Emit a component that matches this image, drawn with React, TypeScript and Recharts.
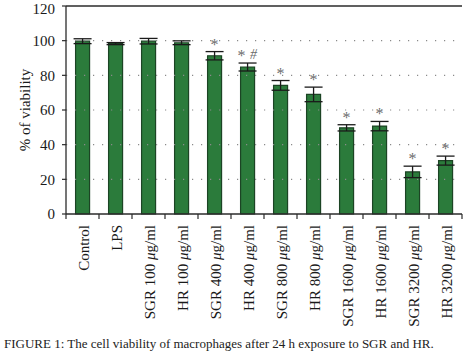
import { ComposedChart, Bar, ErrorBar, XAxis, YAxis, ReferenceLine, Scatter, Customized } from 'recharts';

const categories = [
  'Control', 'LPS', 'SGR 100 μg/ml', 'HR 100 μg/ml', 'SGR 400 μg/ml', 'HR 400 μg/ml',
  'SGR 800 μg/ml', 'HR 800 μg/ml', 'SGR 1600 μg/ml', 'HR 1600 μg/ml', 'SGR 3200 μg/ml', 'HR 3200 μg/ml',
];
const viability = [99.7, 98.3, 99.7, 98.8, 91.3, 84.8, 74.2, 69.0, 49.7, 50.7, 24.3, 30.8];
const errors = [1.4, 0.6, 1.6, 1.1, 2.4, 2.3, 2.8, 4.2, 1.8, 2.7, 3.3, 2.6];
const marks = ['', '', '', '', '*', '* #', '*', '*', '*', '*', '*', '*'];
const yTicks = [0, 20, 40, 60, 80, 100, 120];
const gridValues = [20, 40, 60, 80, 100];

const data = categories.map((name, i) => ({
  name,
  value: viability[i],
  err: errors[i],
  top: viability[i] + errors[i],
  mark: marks[i],
}));

const FONT = '"Liberation Serif", "Times New Roman", serif';
const W = 474;
const H = 352;
const LEFT = 66;
const RIGHT = 12;
const BAND = (W - LEFT - RIGHT) / categories.length;
const AXIS = '#2b2b2b';

const XTick = (props: any) => {
  const { x, y, payload, index } = props;
  const label: string = payload.value;
  const parts = label.split('μ');
  const ty = y + 11;
  return (
    <g>
      <line x1={x + BAND / 2} y1={y} x2={x + BAND / 2} y2={y + 5} stroke={AXIS} strokeWidth={1.2} />
      {index === 0 && <line x1={x - BAND / 2} y1={y} x2={x - BAND / 2} y2={y + 5} stroke={AXIS} strokeWidth={1.2} />}
      <text
        x={x + 1}
        y={ty}
        transform={`rotate(-90, ${x + 1}, ${ty})`}
        textAnchor="end"
        dominantBaseline="central"
        fontFamily={FONT}
        fontSize={15}
        fill="#1a1a1a"
      >
        {parts[0]}
        {parts.length > 1 && <tspan fontStyle="italic">μ</tspan>}
        {parts.length > 1 && parts[1]}
      </text>
    </g>
  );
};

const MarkShape = (props: any) => {
  const { cx, cy, payload } = props;
  if (!payload.mark) return <g />;
  const [star, hash] = payload.mark.split(' ');
  return (
    <g fontFamily={FONT} fill="#6b6b6b">
      <text x={hash ? cx - 6 : cx} y={cy - 2} textAnchor="middle" fontSize={16}>{star}</text>
      {hash && <text x={cx + 6} y={cy - 4} textAnchor="middle" fontSize={14} fontStyle="italic">{hash}</text>}
    </g>
  );
};

const YLabel = (props: any) => {
  const vb = props.viewBox;
  const cy = vb.y + vb.height / 2;
  return (
    <text x={25} y={cy} transform={`rotate(-90, 25, ${cy})`} textAnchor="middle" dominantBaseline="central"
      fontFamily={FONT} fontSize={15} fill="#1a1a1a">
      % of viability
    </text>
  );
};

const Caption = () => (
  <text x={4} y={348} fontFamily={FONT} fontSize={13} fill="#222">
    FIGURE 1: The cell viability of macrophages after 24 h exposure to SGR and HR.
  </text>
);

export default function App() {
  return (
    <div style={{ position: 'absolute', left: 0, top: 0, width: W, height: H, background: '#fff' }}>
      <ComposedChart width={W} height={H} data={data} margin={{ top: 6, right: RIGHT, left: 0, bottom: 0 }}
        barCategoryGap="29%">
        {gridValues.map((v) => (
          <ReferenceLine key={v} y={v} stroke="#8a8a8a" strokeWidth={1.2} strokeDasharray="1.2 7.8" />
        ))}
        <ReferenceLine y={120} stroke={AXIS} strokeWidth={1.3} />
        <XAxis dataKey="name" interval={0} height={138} tickSize={0} tickMargin={0} tickLine={false}
          axisLine={{ stroke: AXIS, strokeWidth: 1.3 }} tick={<XTick />} />
        <YAxis domain={[0, 120]} ticks={yTicks} width={LEFT} tickSize={4} tickMargin={7}
          axisLine={{ stroke: AXIS, strokeWidth: 1.3 }} tickLine={{ stroke: AXIS, strokeWidth: 1.2 }}
          tick={{ fontFamily: FONT, fontSize: 15, fill: '#1a1a1a' }} label={<YLabel />} />
        <YAxis yAxisId="r" orientation="right" width={0} tick={false} tickLine={false}
          axisLine={{ stroke: AXIS, strokeWidth: 1.3 }} />
        <Bar dataKey="value" fill="#2b7b3b" stroke="#1c4424" strokeWidth={1.2} isAnimationActive={false}>
          <ErrorBar dataKey="err" width={9} stroke="#1a1a1a" strokeWidth={1.3} />
        </Bar>
        <Scatter dataKey="top" shape={<MarkShape />} isAnimationActive={false} />
        <Customized component={Caption} />
      </ComposedChart>
    </div>
  );
}
